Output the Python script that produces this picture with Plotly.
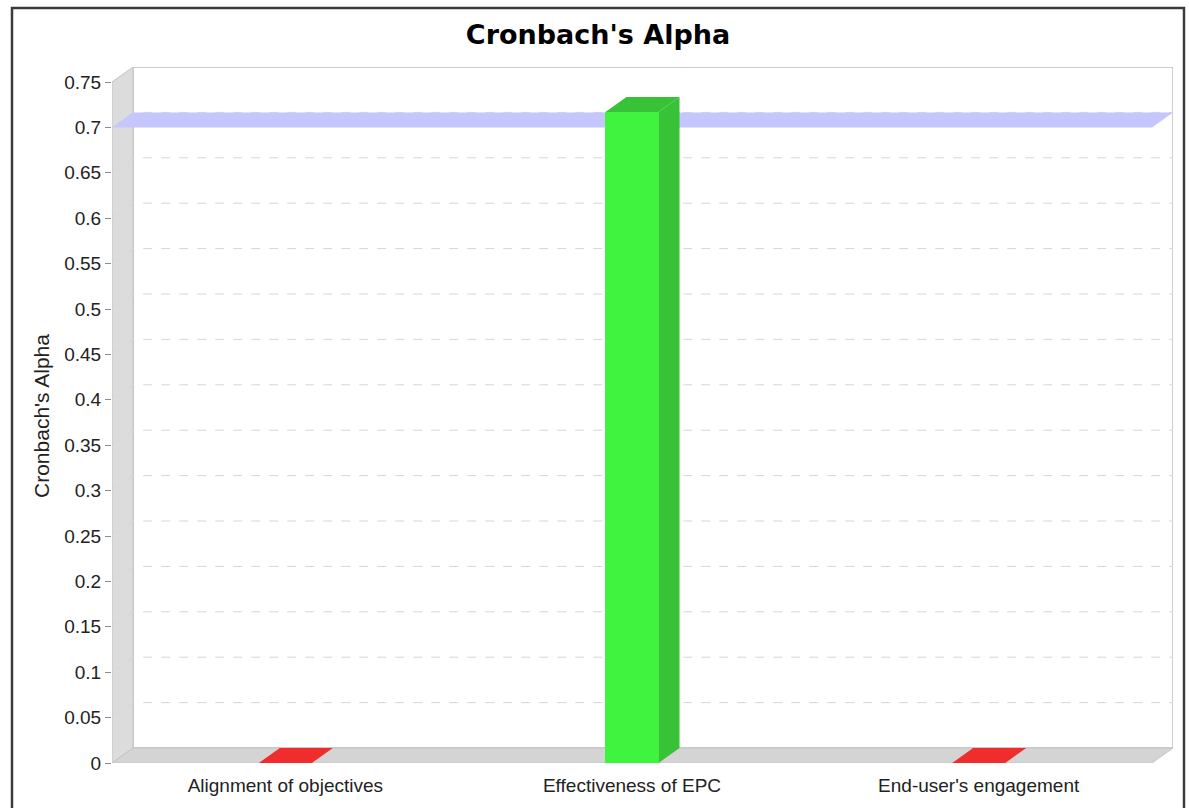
import plotly.graph_objects as go

# ---- data -------------------------------------------------------------
categories = ["Alignment of objectives", "Effectiveness of EPC", "End-user's engagement"]
alpha_values = [0.0, 0.717, 0.0]
threshold = 0.7

y_tick_values = [0, 0.05, 0.1, 0.15, 0.2, 0.25, 0.3, 0.35, 0.4, 0.45,
                 0.5, 0.55, 0.6, 0.65, 0.7, 0.75]
y_tick_labels = ["0", "0.05", "0.1", "0.15", "0.2", "0.25", "0.3", "0.35", "0.4",
                 "0.45", "0.5", "0.55", "0.6", "0.65", "0.7", "0.75"]

# ---- geometry of the pseudo-3D box ------------------------------------
W, H = 1189, 808
M_L, M_R, M_T, M_B = 112, 16, 67, 45
PW = W - M_L - M_R
PH = H - M_T - M_B
DEPTH_X, DEPTH_Y = 21, 15          # back wall offset in pixels (right / up)
Y_FRONT_MAX = y_tick_values[-1]

n = len(categories)
px_per_x = (PW - DEPTH_X) / n
px_per_y = (PH - DEPTH_Y) / Y_FRONT_MAX
x_range = [-0.5, -0.5 + PW / px_per_x]
y_range = [0, PH / px_per_y]
ddx = DEPTH_X / px_per_x           # depth offset in data units
ddy = DEPTH_Y / px_per_y

X_L, X_R = -0.5, n - 0.5
BAR_W = 0.153

PASS_FRONT, PASS_SHADE = "#3ff33f", "#38c238"
FAIL_FRONT, FAIL_SHADE = "#f63232", "#ef2d2d"
TEXT = "#222222"


def poly(points):
    return "M " + " L ".join(f"{x},{y}" for x, y in points) + " Z"


shapes = []

# back wall
shapes.append(dict(type="rect", xref="x", yref="y", layer="below",
                   x0=X_L + ddx, x1=X_R + ddx, y0=ddy, y1=Y_FRONT_MAX + ddy,
                   fillcolor="white", line=dict(color="#bdbdbd", width=1.5)))
# left wall
shapes.append(dict(type="path", xref="x", yref="y", layer="below",
                   path=poly([(X_L, 0), (X_L, Y_FRONT_MAX),
                              (X_L + ddx, Y_FRONT_MAX + ddy), (X_L + ddx, ddy)]),
                   fillcolor="#dcdcdc", line=dict(color="#c4c4c4", width=1)))
# floor
shapes.append(dict(type="path", xref="x", yref="y", layer="below",
                   path=poly([(X_L, 0), (X_L + ddx, ddy), (X_R + ddx, ddy), (X_R, 0)]),
                   fillcolor="#d4d4d4", line=dict(color="#c4c4c4", width=1)))

# range gridlines: diagonal across the left wall, then along the back wall
for v in y_tick_values[1:-1]:
    shapes.append(dict(type="path", xref="x", yref="y", layer="below",
                       path=f"M {X_L},{v} L {X_L + ddx},{v + ddy} L {X_R + ddx},{v + ddy}",
                       line=dict(color="#d6d6d6", width=1, dash="dash")))

# threshold marker band
shapes.append(dict(type="path", xref="x", yref="y", layer="below",
                   path=poly([(X_L, threshold), (X_R, threshold),
                              (X_R + ddx, threshold + ddy), (X_L + ddx, threshold + ddy)]),
                   fillcolor="#c6c6ff", line=dict(width=0)))

# bar tops and right-hand sides
front_colors = []
for i, v in enumerate(alpha_values):
    ok = v >= threshold
    front_colors.append(PASS_FRONT if ok else FAIL_FRONT)
    shade = PASS_SHADE if ok else FAIL_SHADE
    xl, xr = i - BAR_W / 2, i + BAR_W / 2
    shapes.append(dict(type="path", xref="x", yref="y", layer="below",
                       path=poly([(xr, 0), (xr + ddx, ddy), (xr + ddx, v + ddy), (xr, v)]),
                       fillcolor=shade, line=dict(width=0)))
    shapes.append(dict(type="path", xref="x", yref="y", layer="below",
                       path=poly([(xl, v), (xr, v), (xr + ddx, v + ddy), (xl + ddx, v + ddy)]),
                       fillcolor=shade, line=dict(width=0)))

# outer chart frame
def px_to_paper_x(px):
    return (px - M_L) / PW


def px_to_paper_y(py):
    return (H - M_B - py) / PH


shapes.append(dict(type="rect", xref="paper", yref="paper", layer="above",
                   x0=px_to_paper_x(12), x1=px_to_paper_x(1184),
                   y0=px_to_paper_y(814), y1=px_to_paper_y(8),
                   line=dict(color="#3c3c3c", width=2.5)))

fig = go.Figure()
fig.add_trace(go.Bar(x=list(range(n)), y=alpha_values, width=BAR_W,
                     marker=dict(color=front_colors, line=dict(width=0)),
                     showlegend=False, hoverinfo="skip"))

fig.update_layout(
    width=W, height=H,
    margin=dict(l=M_L, r=M_R, t=M_T, b=M_B, pad=0),
    paper_bgcolor="white", plot_bgcolor="white",
    shapes=shapes,
    title=dict(text="Cronbach's Alpha", xref="container", yref="container",
               x=598 / W, y=1 - 35 / H, xanchor="center", yanchor="middle",
               font=dict(family="DejaVu Sans", size=27, color="black", weight="bold")),
    xaxis=dict(range=x_range, tickvals=list(range(n)), ticktext=categories,
               ticks="", showgrid=False, zeroline=False, showline=False,
               ticklabelstandoff=9,
               tickfont=dict(family="Liberation Sans", size=19, color=TEXT)),
    yaxis=dict(range=y_range, tickvals=y_tick_values, ticktext=y_tick_labels,
               ticks="outside", ticklen=6, tickcolor="#8c8c8c", tickwidth=1,
               showgrid=False, zeroline=False, showline=False,
               tickfont=dict(family="Liberation Sans", size=19, color=TEXT)),
    annotations=[dict(text="Cronbach's Alpha", textangle=-90, showarrow=False,
                      xref="paper", yref="paper",
                      x=px_to_paper_x(42), y=px_to_paper_y(416),
                      xanchor="center", yanchor="middle",
                      font=dict(family="Liberation Sans", size=21, color=TEXT))],
    bargap=0,
)

fig.write_html("out.html")
